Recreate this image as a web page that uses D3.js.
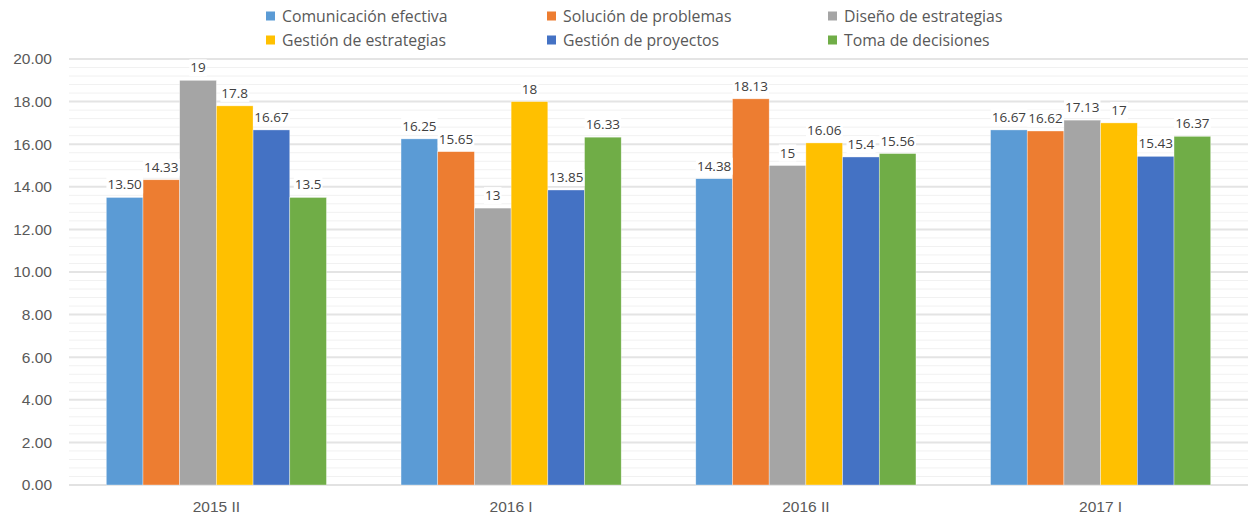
<!DOCTYPE html>
<html lang="es">
<head>
<meta charset="UTF-8">
<title>Competencias</title>
<script src="https://cdn.jsdelivr.net/npm/d3@7"></script>
<style>
    html, body { margin: 0; padding: 0; background: #fff; }
    svg { display: block; font-family: "Open Sans", sans-serif; }
    .tick-label { fill: #595959; font-size: 15.5px; }
    .bar-label { fill: #404040; font-size: 13.5px; }
    .legend-text { fill: #595959; font-size: 15.8px; }
</style>
</head>
<body>
<script>
    // periodos
    const categories = ['2015 II', '2016 I', '2016 II', '2017 I'];

    const seriesNames = [
        'Comunicación efectiva', 'Solución de problemas', 'Diseño de estrategias',
        'Gestión de estrategias', 'Gestión de proyectos', 'Toma de decisiones'
    ];
    const colors = ['#5B9BD5', '#ED7D31', '#A5A5A5', '#FFC000', '#4472C4', '#70AD47'];

    // valores como aparecen en las etiquetas
    const comunicacion = ['13.50', '16.25', '14.38', '16.67'];
    const solucion = ['14.33', '15.65', '18.13', '16.62'];
    const diseno = ['19', '13', '15', '17.13'];
    const gestionEstr = ['17.8', '18', '16.06', '17'];
    const gestionProy = ['16.67', '13.85', '15.4', '15.43'];
    const tomaDec = ['13.5', '16.33', '15.56', '16.37'];

    const series = [comunicacion, solucion, diseno, gestionEstr, gestionProy, tomaDec];

    const yTicks = [0, 2, 4, 6, 8, 10, 12, 14, 16, 18, 20];

    const width = 1249, height = 516;
    const plotLeft = 69, plotRight = 1248, plotTop = 59, plotBottom = 485;

    let svg = d3.select('body').append('svg')
        .attr('width', width)
        .attr('height', height);

    let y = d3.scaleLinear().domain([0, 20]).range([plotBottom, plotTop]);
    let x0 = d3.scaleBand().domain(categories).range([plotLeft, plotRight]).paddingInner(0.253).paddingOuter(0.1265);
    let x1 = d3.scaleBand().domain(d3.range(seriesNames.length)).range([0, x0.bandwidth()]);

    // líneas secundarias
    let minor = d3.range(0, 20.01, 0.4).filter(v => Math.abs(v / 2 - Math.round(v / 2)) > 0.01);
    svg.append('g').selectAll('line')
        .data(minor).enter()
        .append('line')
        .attr('x1', plotLeft).attr('x2', plotRight)
        .attr('y1', d => y(d)).attr('y2', d => y(d))
        .attr('stroke', '#f1f1f1').attr('stroke-width', 1);

    // líneas principales
    svg.append('g').selectAll('line')
        .data(yTicks.filter(d => d > 0)).enter()
        .append('line')
        .attr('x1', plotLeft).attr('x2', plotRight)
        .attr('y1', d => y(d)).attr('y2', d => y(d))
        .attr('stroke', '#e4e4e4').attr('stroke-width', 2);

    svg.append('line')
        .attr('x1', plotLeft).attr('x2', plotRight)
        .attr('y1', y(0)).attr('y2', y(0))
        .attr('stroke', '#d9d9d9').attr('stroke-width', 1.5);

    // eje y
    let yAxis = svg.append('g')
        .attr('transform', `translate(${plotLeft - 17},0)`)
        .call(d3.axisLeft(y).tickValues(yTicks).tickFormat(d3.format('.2f')).tickSize(0).tickPadding(0));
    yAxis.select('.domain').remove();
    yAxis.selectAll('text').attr('class', 'tick-label').attr('font-size', null).attr('font-family', null);

    // eje x
    let xAxis = svg.append('g')
        .attr('transform', `translate(0,${plotBottom})`)
        .call(d3.axisBottom(x0).tickSize(0).tickPadding(16));
    xAxis.select('.domain').remove();
    xAxis.selectAll('text').attr('class', 'tick-label').attr('font-size', null).attr('font-family', null);

    // barras
    let groups = svg.append('g').selectAll('g')
        .data(categories).enter()
        .append('g')
        .attr('transform', d => `translate(${x0(d)},0)`);

    groups.selectAll('rect')
        .data((c, ci) => series.map((s, si) => ({si: si, v: +s[ci]}))).enter()
        .append('rect')
        .attr('x', d => x1(d.si))
        .attr('width', x1.bandwidth())
        .attr('y', d => y(d.v))
        .attr('height', d => y(0) - y(d.v))
        .attr('fill', d => colors[d.si])
        .attr('stroke', 'rgba(255,255,255,0.6)')
        .attr('stroke-width', 0.6);

    // etiquetas
    let labels = groups.selectAll('g.lbl')
        .data((c, ci) => series.map((s, si) => ({si: si, t: s[ci], v: +s[ci]}))).enter()
        .append('g')
        .classed('lbl', true)
        .attr('transform', d => `translate(${x1(d.si) + x1.bandwidth() / 2},${y(d.v) - 8})`);

    labels.append('rect')
        .attr('fill', '#fff');

    labels.append('text')
        .attr('class', 'bar-label')
        .attr('text-anchor', 'middle')
        .text(d => d.t);

    labels.each(function () {
        let b = d3.select(this).select('text').node().getBBox();
        d3.select(this).select('rect')
            .attr('x', b.x - 1).attr('y', b.y + 1)
            .attr('width', b.width + 2).attr('height', b.height - 1);
    });

    // leyenda
    const legendCols = [266, 547, 828];
    const legendRows = [16, 40];
    let legend = svg.append('g').selectAll('g')
        .data(seriesNames).enter()
        .append('g')
        .attr('transform', (d, i) => `translate(${legendCols[i % 3]},${legendRows[Math.floor(i / 3)]})`);

    legend.append('rect')
        .attr('x', 0).attr('y', -4.5)
        .attr('width', 9).attr('height', 9)
        .attr('fill', (d, i) => colors[i]);

    legend.append('text')
        .attr('class', 'legend-text')
        .attr('x', 16)
        .attr('dy', '0.35em')
        .text(d => d);
</script>
</body>
</html>
